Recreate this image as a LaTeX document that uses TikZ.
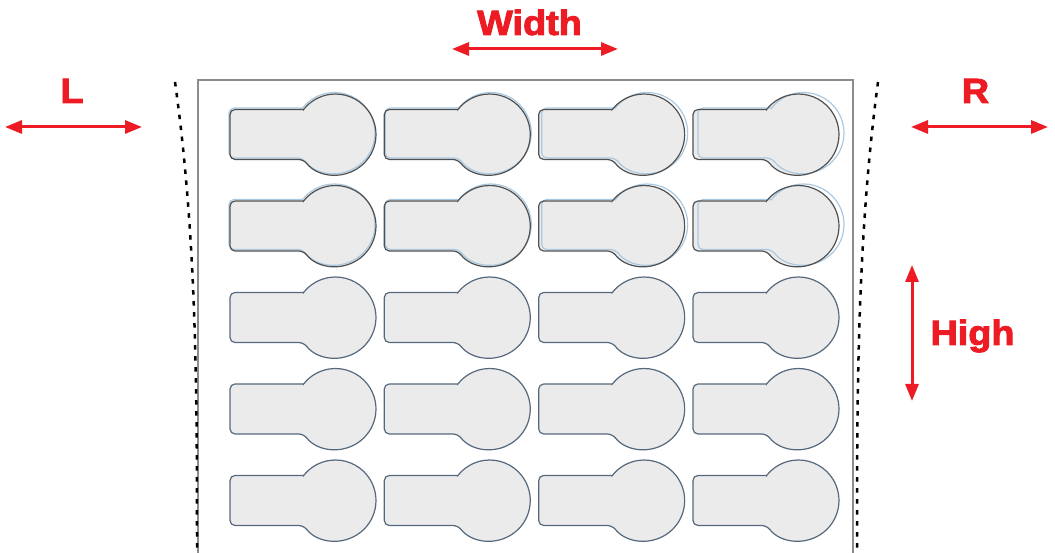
\documentclass[tikz,border=0pt]{standalone}
\usepackage{fontspec}
\setmainfont{Liberation Sans}
\newfontfamily\lblfont[FakeBold=2.5]{Liberation Sans Bold}
\usetikzlibrary{arrows.meta}
\definecolor{dimred}{HTML}{ED1C24}
\definecolor{keyfill}{HTML}{EBEBEB}
\definecolor{keyedgeA}{HTML}{505050}
\definecolor{keyedgeB}{HTML}{55687C}
\definecolor{shadowblue}{HTML}{A9C9E2}
\definecolor{framegray}{HTML}{8C8C8C}
\tikzset{
  keyhole/.pic={
    \path[pic actions] (-31.9,25) [rounded corners=5pt] -- (-105.5,25) -- (-105.5,-25) -- (-31.9,-25) [sharp corners]
      arc[start angle=-141.9,end angle=141.9,radius=40.5] -- cycle;
  },
  keybody/.style={fill=keyfill,draw=none},
  keyline/.style={draw=#1,line width=1.2pt},
  dimarrow/.style={draw=dimred,line width=3pt,{Triangle[length=17pt,width=13pt]}-{Triangle[length=17pt,width=13pt]}},
  dimlabel/.style={text=dimred,font=\lblfont\fontsize{35}{35}\selectfont,anchor=base,inner sep=0pt,xscale=1.08},
  cutline/.style={draw=black,line width=2.5pt,dash pattern=on 4.5pt off 6.5pt},
  sheetframe/.style={draw=framegray,line width=1.5pt}
}
\begin{document}
\begin{tikzpicture}[x=1pt,y=1pt]
\useasboundingbox (0,0) rectangle (1055,553);
% sheet frame
\draw[sheetframe] (198,-5) -- (198,473) -- (853,473) -- (853,-5);
% keyhole labels
\foreach \cx [count=\c] in {335.5,489.8,644.2,798.5}{
  \foreach \cy [count=\r] in {418.5,327,235.5,144,52.5}{
    \pic[keybody] at (\cx,\cy) {keyhole};
    \ifnum\r<3
      \pic[keyline=shadowblue] at ({\cx+2*\c-3},{\cy+1.5}) {keyhole};
      \pic[keyline=keyedgeA] at (\cx,\cy) {keyhole};
    \else
      \pic[keyline=keyedgeB] at (\cx,\cy) {keyhole};
    \fi
  }
}
% cut lines
\coordinate (lt) at (175,471);
\coordinate (lb) at (197,-2);
\coordinate (rt) at (878,471);
\coordinate (rb) at (857,-2);
\draw[cutline] (lt) .. controls (197,314) and (197,157) .. (lb);
\draw[cutline] (rt) .. controls (857,314) and (857,157) .. (rb);
% dimension arrows
\coordinate (w1) at (452,504);
\coordinate (w2) at (618,504);
\coordinate (l1) at (5,426);
\coordinate (l2) at (142,426);
\coordinate (r1) at (911,426);
\coordinate (r2) at (1048,426);
\coordinate (h1) at (912,288);
\coordinate (h2) at (912,152);
\draw[dimarrow] (w1) -- (w2);
\draw[dimarrow] (l1) -- (l2);
\draw[dimarrow] (r1) -- (r2);
\draw[dimarrow] (h1) -- (h2);
% labels
\node[dimlabel] (wlab) at (529.5,518) {Width};
\node[dimlabel] (llab) at (72,450) {L};
\node[dimlabel] (rlab) at (975.5,450) {R};
\node[dimlabel] (hlab) at (972.5,208) {High};
\end{tikzpicture}
\end{document}
